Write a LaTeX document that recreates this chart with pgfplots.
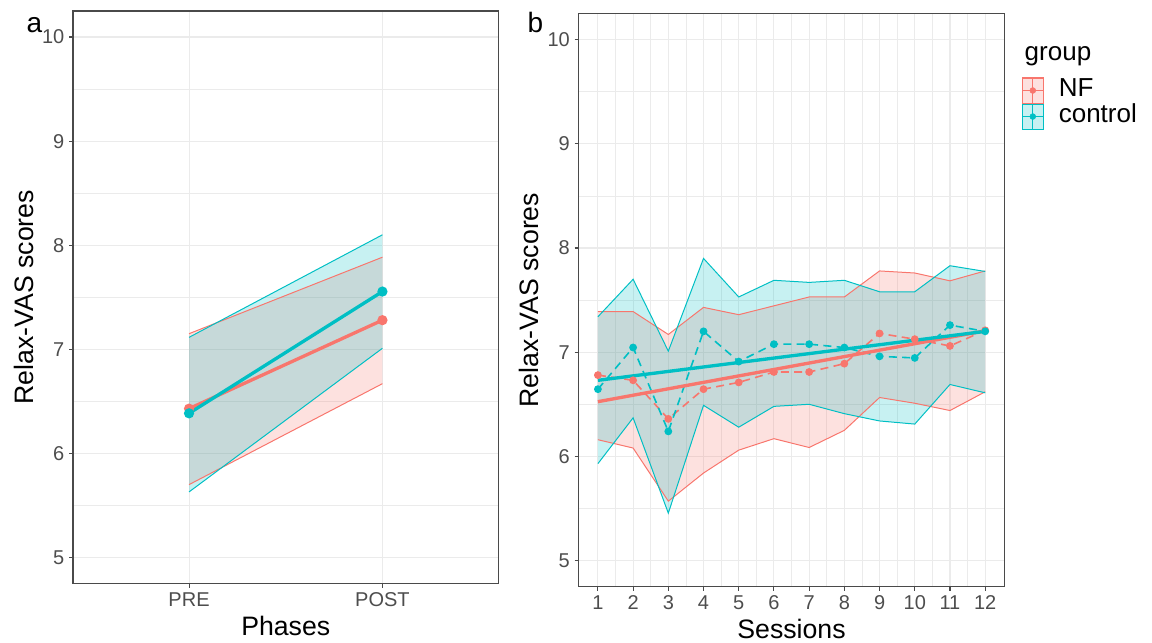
\documentclass[border=0pt]{standalone}
\usepackage{pgfplots}
\pgfplotsset{compat=1.18}
\usepackage{pgfplotstable}
\usepgfplotslibrary{fillbetween}
\usepackage{fontspec}
\setmainfont{Liberation Sans}
\definecolor{nfc}{HTML}{F8766D}
\definecolor{ctc}{HTML}{00BFC4}
\definecolor{gridc}{HTML}{EBEBEB}
\definecolor{tickc}{HTML}{4D4D4D}
\definecolor{framec}{HTML}{4A4A4A}

\pgfplotstableread{
x nf nfu nfl ct ctu ctl
1 6.78 7.39 6.16 6.645 7.34 5.93
2 6.73 7.39 6.08 7.045 7.70 6.37
3 6.36 7.17 5.57 6.24 7.01 5.455
4 6.645 7.43 5.84 7.20 7.90 6.49
5 6.71 7.36 6.06 6.91 7.53 6.28
6 6.81 7.445 6.17 7.077 7.69 6.48
7 6.81 7.53 6.085 7.077 7.67 6.50
8 6.89 7.53 6.25 7.045 7.69 6.41
9 7.18 7.78 6.565 6.96 7.58 6.34
10 7.125 7.76 6.51 6.945 7.58 6.31
11 7.06 7.685 6.44 7.26 7.83 6.69
12 7.21 7.78 6.62 7.20 7.775 6.61
}\sessions

\pgfplotsset{ggstyle/.style={
  scale only axis,
  axis line style={framec, line width=0.8pt},
  ymin=4.75, ymax=10.25, ytick={5,6,7,8,9,10}, minor ytick={5.5,6.5,7.5,8.5,9.5},
  grid=both,
  major grid style={gridc, line width=0.8pt},
  minor grid style={gridc, line width=0.45pt},
  tick align=outside, tick pos=left, major tick length=3pt, minor tick length=0pt,
  tick style={framec, line width=0.8pt},
  tick label style={font=\fontsize{15}{18}\selectfont, text=tickc},
  /pgf/number format/assume math mode=true,
  label style={font=\fontsize{20}{24}\selectfont},
  xlabel style={at={(axis description cs:0.5,-0.09)}, anchor=base},
  ylabel style={at={(axis description cs:-0.094,0.5)}, anchor=base},
}}

\begin{document}
\begin{tikzpicture}
\path (0pt,0pt) rectangle (864pt,-480.75pt);

% ---------- panel a ----------
\begin{axis}[ggstyle,
  at={(54.75pt,-8.25pt)}, anchor=north west,
  width=319.1pt, height=429.4pt,
  xmin=0.4, xmax=2.6, xtick={1,2}, xticklabels={PRE,POST},
  xlabel={Phases}, ylabel={Relax-VAS scores}]
\addplot[name path=au, draw=none, forget plot] coordinates {(1,7.15)(2,7.885)};
\addplot[name path=al, draw=none, forget plot] coordinates {(1,5.70)(2,6.67)};
\addplot[fill=nfc, fill opacity=0.22, forget plot] fill between[of=au and al];
\addplot[nfc, line width=0.75pt, forget plot] coordinates {(1,7.15)(2,7.885)};
\addplot[nfc, line width=0.75pt, forget plot] coordinates {(1,5.70)(2,6.67)};
\addplot[name path=bu, draw=none, forget plot] coordinates {(1,7.115)(2,8.10)};
\addplot[name path=bl, draw=none, forget plot] coordinates {(1,5.63)(2,7.01)};
\addplot[fill=ctc, fill opacity=0.22, forget plot] fill between[of=bu and bl];
\addplot[ctc, line width=0.75pt, forget plot] coordinates {(1,7.115)(2,8.10)};
\addplot[ctc, line width=0.75pt, forget plot] coordinates {(1,5.63)(2,7.01)};
\addplot[nfc, line width=2.5pt, mark=*, mark size=2.5pt, forget plot] coordinates {(1,6.43)(2,7.28)};
\addplot[ctc, line width=2.5pt, mark=*, mark size=2.5pt, forget plot] coordinates {(1,6.385)(2,7.555)};
\end{axis}

% ---------- panel b ----------
\begin{axis}[ggstyle,
  at={(433.9pt,-10.2pt)}, anchor=north west,
  width=319.5pt, height=429.75pt,
  xmin=0.45, xmax=12.55, xtick={1,...,12},
  minor xtick={1.5,2.5,3.5,4.5,5.5,6.5,7.5,8.5,9.5,10.5,11.5},
  xlabel={Sessions}, ylabel={Relax-VAS scores},
  legend style={at={(1.039,0.889)}, anchor=north west, draw=none, fill=none,
    inner sep=0pt, row sep=0pt, column sep=11pt,
    nodes={inner sep=0pt, text height=14.5pt, text depth=5pt, font=\fontsize{19.5}{22}\selectfont}},
  legend cell align=left]
\addplot[name path=nu, draw=none, forget plot] table[x=x,y=nfu]{\sessions};
\addplot[name path=nl, draw=none, forget plot] table[x=x,y=nfl]{\sessions};
\addplot[fill=nfc, fill opacity=0.22, forget plot] fill between[of=nu and nl];
\addplot[nfc, line width=0.75pt, forget plot] table[x=x,y=nfu]{\sessions};
\addplot[nfc, line width=0.75pt, forget plot] table[x=x,y=nfl]{\sessions};
\addplot[name path=cu, draw=none, forget plot] table[x=x,y=ctu]{\sessions};
\addplot[name path=cl, draw=none, forget plot] table[x=x,y=ctl]{\sessions};
\addplot[fill=ctc, fill opacity=0.22, forget plot] fill between[of=cu and cl];
\addplot[ctc, line width=0.75pt, forget plot] table[x=x,y=ctu]{\sessions};
\addplot[ctc, line width=0.75pt, forget plot] table[x=x,y=ctl]{\sessions};
\addplot[nfc, line width=1.2pt, dash pattern=on 6pt off 4pt, mark=*, mark size=2.3pt, mark options={solid}, forget plot] table[x=x,y=nf]{\sessions};
\addplot[ctc, line width=1.2pt, dash pattern=on 6pt off 4pt, mark=*, mark size=2.3pt, mark options={solid}, forget plot] table[x=x,y=ct]{\sessions};
\addplot[nfc, line width=2.5pt, forget plot] coordinates {(1,6.525)(12,7.205)};
\addplot[ctc, line width=2.5pt, forget plot] coordinates {(1,6.73)(12,7.20)};
\addlegendimage{legend image code/.code={
  \fill[nfc, fill opacity=0.22] (0pt,-9.4pt) rectangle (15.75pt,9.4pt);
  \draw[nfc, line width=0.75pt] (0pt,-9.4pt) rectangle (15.75pt,9.4pt);
  \draw[nfc, line width=1.3pt] (0pt,0pt) -- (15.75pt,0pt);
  \draw[nfc, line width=0.6pt] (7.875pt,-9.4pt) -- (7.875pt,9.4pt);
  \fill[nfc] (7.875pt,0pt) circle (2.2pt);}}
\addlegendentry{NF}
\addlegendimage{legend image code/.code={
  \fill[ctc, fill opacity=0.22] (0pt,-9.4pt) rectangle (15.75pt,9.4pt);
  \draw[ctc, line width=0.75pt] (0pt,-9.4pt) rectangle (15.75pt,9.4pt);
  \draw[ctc, line width=1.3pt] (0pt,0pt) -- (15.75pt,0pt);
  \draw[ctc, line width=0.6pt] (7.875pt,-9.4pt) -- (7.875pt,9.4pt);
  \fill[ctc] (7.875pt,0pt) circle (2.2pt);}}
\addlegendentry{control}
\end{axis}

\node[anchor=base west, font=\fontsize{19.5}{22}\selectfont] at (765pt,-45pt) {group};
\node[anchor=base west, font=\fontsize{21}{24}\selectfont] at (16.5pt,-24pt) {a};
\node[anchor=base west, font=\fontsize{21}{24}\selectfont] at (392.25pt,-24pt) {b};
\end{tikzpicture}
\end{document}
